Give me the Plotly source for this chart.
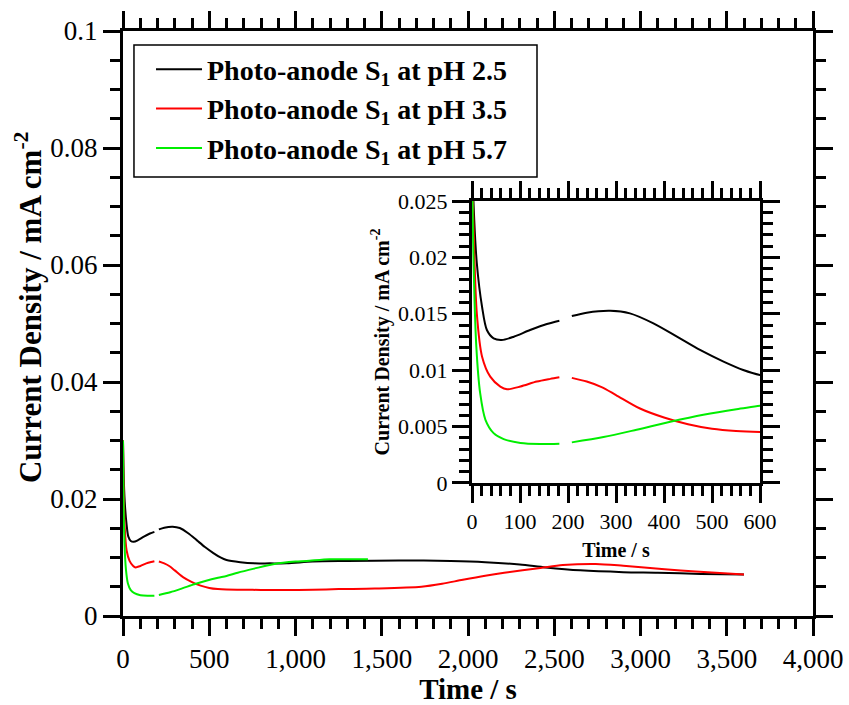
import plotly.graph_objects as go

# Chronoamperometry of photo-anode S1 at three pH values
t_ph25 = [0, 3, 10, 21, 31, 45, 62, 87, 121, 156, 182, None, 208, 239, 288, 329, 378, 427, 475, 524, 565, 600,
          680, 760, 850, 950, 1100, 1300, 1600, 1900, 2100, 2300, 2450, 2650, 2900, 3100, 3350, 3600]
j_ph25 = [0.030, 0.025, 0.0195, 0.0156, 0.01356, 0.01282, 0.01268, 0.01297, 0.01356, 0.0141, 0.01439, None,
          0.0148, 0.0151, 0.01527, 0.01504, 0.01415, 0.01297, 0.01179, 0.01076, 0.01002, 0.00958,
          0.0092, 0.0090, 0.0090, 0.0090, 0.0093, 0.0094, 0.0095, 0.0094, 0.0092, 0.0088, 0.0083, 0.0078,
          0.0075, 0.0074, 0.0072, 0.0071]

t_ph35 = [0, 3, 10, 21, 38, 59, 73, 101, 135, 163, 182, None, 208, 239, 270, 300, 350, 400, 450, 500, 550, 600,
          700, 800, 930, 1100, 1250, 1460, 1730, 1850, 1970, 2100, 2210, 2420, 2550, 2740, 2900, 3140, 3320, 3600]
j_ph35 = [0.030, 0.023, 0.01504, 0.0112, 0.00943, 0.00855, 0.00831, 0.00855, 0.00899, 0.00923, 0.00937, None,
          0.00932, 0.00899, 0.0085, 0.0078, 0.0066, 0.0058, 0.0052, 0.0048, 0.0046, 0.00452,
          0.0045, 0.00445, 0.00444, 0.00448, 0.0046, 0.0047, 0.0050, 0.0055, 0.0062, 0.0069, 0.0074, 0.0082,
          0.0087, 0.0089, 0.0086, 0.0080, 0.0076, 0.0071]

t_ph57 = [0, 3, 9, 17, 28, 45, 66, 101, 142, 182, None, 208, 274, 343, 413, 482, 551, 600, 665, 760, 878,
          1000, 1064, 1197, 1300, 1420]
j_ph57 = [0.030, 0.020, 0.01209, 0.00796, 0.0056, 0.00442, 0.00389, 0.00354, 0.00345, 0.00348, None,
          0.0036, 0.00407, 0.00472, 0.00542, 0.00604, 0.00654, 0.00684, 0.0074, 0.0081, 0.0089,
          0.0093, 0.0094, 0.0097, 0.0097, 0.0097]

series = [
    ("<b>Photo-anode S<sub>1</sub> at pH 2.5</b>", t_ph25, j_ph25, "#000000"),
    ("<b>Photo-anode S<sub>1</sub> at pH 3.5</b>", t_ph35, j_ph35, "#ff0000"),
    ("<b>Photo-anode S<sub>1</sub> at pH 5.7</b>", t_ph57, j_ph57, "#00ee00"),
]

FONT = "Liberation Serif"
Y_TITLE = "<b>Current Density / mA cm<sup>-2</sup></b>"

fig = go.Figure()
for name, t, j, color in series:
    fig.add_trace(go.Scatter(x=t, y=j, mode="lines", name=name,
                             line=dict(color=color, width=2, shape="spline", smoothing=0.8),
                             connectgaps=False, xaxis="x", yaxis="y"))
for name, t, j, color in series:
    fig.add_trace(go.Scatter(x=t, y=j, mode="lines", name=name, showlegend=False,
                             line=dict(color=color, width=2, shape="spline", smoothing=0.8),
                             connectgaps=False, xaxis="x2", yaxis="y2"))

axis_common = dict(showgrid=False, zeroline=False, showline=True, linecolor="black", linewidth=3,
                   ticks="outside", ticklen=17, tickwidth=3, tickcolor="black", mirror="allticks",
                   automargin=False)

fig.update_layout(
    width=849, height=705, autosize=False,
    margin=dict(l=123, r=36, t=31, b=89),
    paper_bgcolor="white", plot_bgcolor="white",
    font=dict(family=FONT, color="black"),
    xaxis=dict(range=[0, 4000], dtick=500, tick0=0, tickformat=",",
               tickfont=dict(size=27),
               minor=dict(dtick=100, ticks="outside", ticklen=10, tickwidth=3, tickcolor="black"),
               title=dict(text="<b>Time / s</b>", font=dict(size=29), standoff=8),
               **axis_common),
    yaxis=dict(range=[0, 0.1], dtick=0.02, tick0=0,
               tickfont=dict(size=27),
               minor=dict(dtick=0.005, ticks="outside", ticklen=10, tickwidth=3, tickcolor="black"),
               **axis_common),
    xaxis2=dict(domain=[0.5058, 0.9232], anchor="y2", range=[0, 600], dtick=100, tick0=0,
                tickfont=dict(size=22),
                minor=dict(dtick=20, ticks="outside", ticklen=10, tickwidth=3, tickcolor="black"),
                title=dict(text="<b>Time / s</b>", font=dict(size=20), standoff=10),
                **axis_common),
    yaxis2=dict(domain=[0.2274, 0.7094], anchor="x2", range=[0, 0.025], dtick=0.005, tick0=0,
                tickfont=dict(size=22),
                minor=dict(dtick=0.001, ticks="outside", ticklen=10, tickwidth=3, tickcolor="black"),
                title=dict(text=Y_TITLE, font=dict(size=20), standoff=4),
                **axis_common),
    legend=dict(x=0.0406, y=0.977, xanchor="left", yanchor="top",
                bgcolor="rgba(0,0,0,0)", borderwidth=0,
                font=dict(size=28, family=FONT), itemwidth=46,
                tracegroupgap=0),
    showlegend=True,
    shapes=[dict(type="rect", xref="paper", yref="paper",
                 x0=0.0159, x1=0.6, y0=0.7504, y1=0.976,
                 line=dict(color="black", width=1.5), fillcolor="rgba(0,0,0,0)", layer="above")],
    annotations=[dict(text=Y_TITLE, textangle=-90, xref="paper", yref="paper",
                      x=-0.1377, y=0.528, xanchor="center", yanchor="middle",
                      showarrow=False, font=dict(size=31))],
)

fig.write_html("out.html")
